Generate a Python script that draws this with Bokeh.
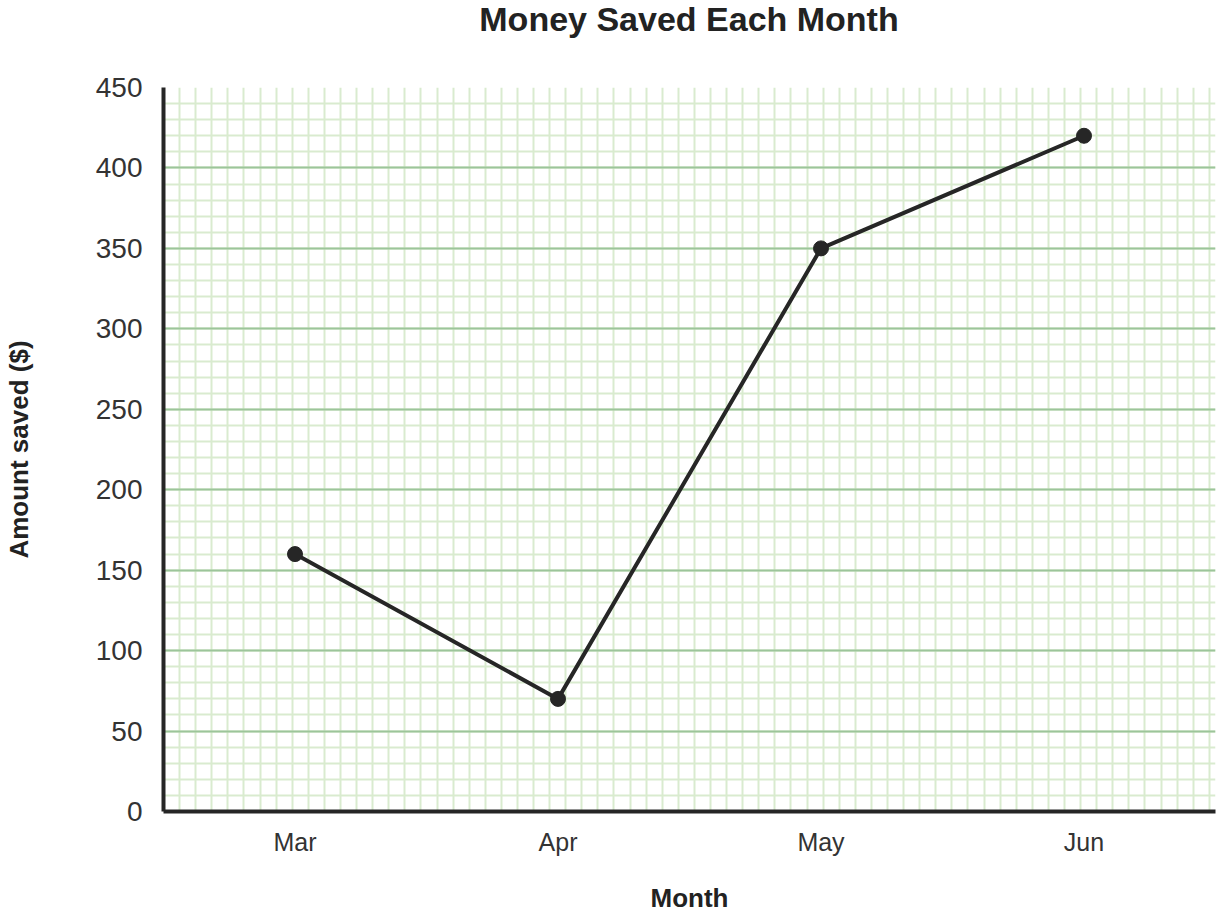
import numpy as np
from bokeh.plotting import figure
from bokeh.layouts import column
from bokeh.models import Range1d, Grid, FixedTicker, SingleIntervalTicker, Div
from bokeh.embed import file_html
from bokeh.resources import INLINE

# ---- data ----
months = ["Mar", "Apr", "May", "Jun"]
saved = [160, 70, 350, 420]
y_min, y_max, y_major, y_minor = 0, 450, 50, 10

title_text = "Money Saved Each Month"
x_label = "Month"
y_label = "Amount saved ($)"

# ---- style ----
FONT = "Liberation Sans"
FRAME_W, FRAME_H = 1052, 724
LEFT, RIGHT, TOP, BOTTOM = 163, 1, 49, 100
TITLE_H = 38
INK = "#262626"
TXT = "#333333"
MAJOR_GRID = "#9cc59a"
MINOR_GRID = "#d9ebcf"

# month slots: each month is centred in a band of width 1
xpos = [i + 0.5 for i in range(len(months))]
n = len(months)

p = figure(
    x_range=Range1d(0, n),
    y_range=Range1d(y_min, y_max),
    frame_width=FRAME_W, frame_height=FRAME_H,
    min_border_left=LEFT, min_border_right=RIGHT, min_border_top=TOP, min_border_bottom=BOTTOM,
    output_backend="svg", toolbar_location=None,
    background_fill_color="white", border_fill_color="white",
)
p.outline_line_color = None
p.title.text = ""
p.title.visible = False
p.title.standoff = 0
p.title.text_font_size = "1px"

# title above the plot, centred over the plot area
title_div = Div(
    text=(f'<div style="width:{FRAME_W}px;margin-left:{LEFT}px;text-align:center;'
          f'font-family:\'{FONT}\';font-size:34px;font-weight:bold;color:#222222;'
          f'line-height:{TITLE_H}px;height:{TITLE_H}px;white-space:nowrap;">{title_text}</div>'),
    width=LEFT + FRAME_W + RIGHT, height=TITLE_H, margin=0,
)

# y axis
p.yaxis.ticker = SingleIntervalTicker(interval=y_major, num_minor_ticks=y_major // y_minor)
p.yaxis.axis_label = y_label
p.yaxis.axis_label_text_font = FONT
p.yaxis.axis_label_text_font_size = "26px"
p.yaxis.axis_label_text_font_style = "bold"
p.yaxis.axis_label_text_color = "#222222"
p.yaxis.axis_label_standoff = 59
p.yaxis.major_label_text_font = FONT
p.yaxis.major_label_text_font_size = "28px"
p.yaxis.major_label_text_color = TXT
p.yaxis.major_label_standoff = 15

# x axis
p.xaxis.ticker = FixedTicker(ticks=xpos)
p.xaxis.major_label_overrides = {x: m for x, m in zip(xpos, months)}
p.xaxis.axis_label = x_label
p.xaxis.axis_label_text_font = FONT
p.xaxis.axis_label_text_font_size = "26px"
p.xaxis.axis_label_text_font_style = "bold"
p.xaxis.axis_label_text_color = "#222222"
p.xaxis.axis_label_standoff = 24
p.xaxis.major_label_text_font = FONT
p.xaxis.major_label_text_font_size = "25px"
p.xaxis.major_label_text_color = TXT
p.xaxis.major_label_standoff = 10

for ax in (p.xaxis, p.yaxis):
    ax.axis_line_color = INK
    ax.axis_line_width = 4
    ax.major_tick_line_color = None
    ax.minor_tick_line_color = None

# grids
p.xgrid.grid_line_color = None
p.ygrid.grid_line_color = MAJOR_GRID
p.ygrid.grid_line_width = 2
p.ygrid.minor_grid_line_color = MINOR_GRID
p.ygrid.minor_grid_line_width = 2

# vertical graph-paper lines: same pixel spacing as the horizontal minor lines
step_px = FRAME_H * y_minor / (y_max - y_min)
step = step_px * n / FRAME_W
vticks = list(np.arange(step, n, step))
vgrid = Grid(dimension=0, ticker=FixedTicker(ticks=vticks),
             grid_line_color=MINOR_GRID, grid_line_width=2)
p.center = [vgrid] + list(p.center)

# data
p.line(xpos, saved, line_color=INK, line_width=4)
p.scatter(xpos, saved, size=15, fill_color=INK, line_color=INK)

layout = column(title_div, p, spacing=0)
open("out.html", "w").write(file_html(layout, INLINE))
